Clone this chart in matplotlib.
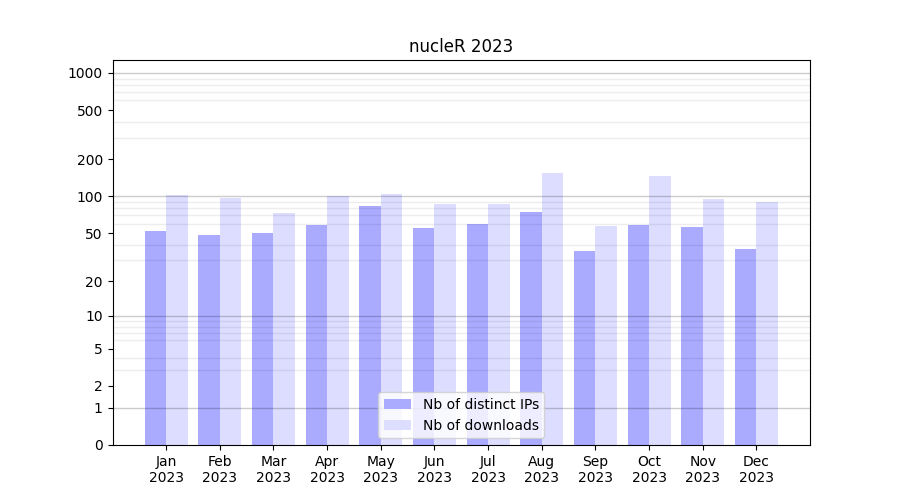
import numpy as np
import matplotlib
matplotlib.use("Agg")
import matplotlib.pyplot as plt
from matplotlib.ticker import FixedLocator, NullFormatter

months = ["Jan\n2023", "Feb\n2023", "Mar\n2023", "Apr\n2023", "May\n2023", "Jun\n2023",
          "Jul\n2023", "Aug\n2023", "Sep\n2023", "Oct\n2023", "Nov\n2023", "Dec\n2023"]
distinct_ips = [52, 48, 50, 58, 84, 55, 60, 75, 36, 58, 56, 37]
downloads = [103, 97, 73, 100, 105, 87, 87, 155, 57, 147, 95, 90]
ytick_values = [0, 1, 2, 5, 10, 20, 50, 100, 200, 500, 1000]

fig, ax = plt.subplots(figsize=(9, 5), dpi=100)
ax.set_yscale('function', functions=(lambda v: np.log10(1 + np.clip(v, 0, None)),
                                     lambda v: 10 ** v - 1))
x = np.arange(1, len(months) + 1)
ax.bar(x - 0.2, distinct_ips, width=0.4, color='#aaaaff', label='Nb of distinct IPs')
ax.bar(x + 0.2, downloads, width=0.4, color='#ddddff', label='Nb of downloads')

ax.set_xlim(0, 13)
ax.set_ylim(0, 1273)
ax.set_xticks(x)
ax.set_xticklabels(months)
ax.yaxis.set_major_locator(FixedLocator(ytick_values))
ax.set_yticklabels([str(v) for v in ytick_values])
minor = [m * d for d in (1, 10, 100) for m in range(2, 10)] + [1000 * m for m in (1.0,)]
ax.yaxis.set_minor_locator(FixedLocator([m * d for d in (1, 10, 100) for m in range(2, 10)]))
ax.yaxis.set_minor_formatter(NullFormatter())
ax.tick_params(axis='y', which='minor', length=0)
ax.grid(False)
for v in (1, 10, 100, 1000):
    ax.axhline(v, color='black', alpha=0.2, lw=1, zorder=1.5)
ax.grid(True, axis='y', which='minor', color='black', alpha=0.07, lw=1)
ax.set_title("nucleR 2023")
ax.legend(loc='lower center')
fig.savefig("out.png", dpi=100)
